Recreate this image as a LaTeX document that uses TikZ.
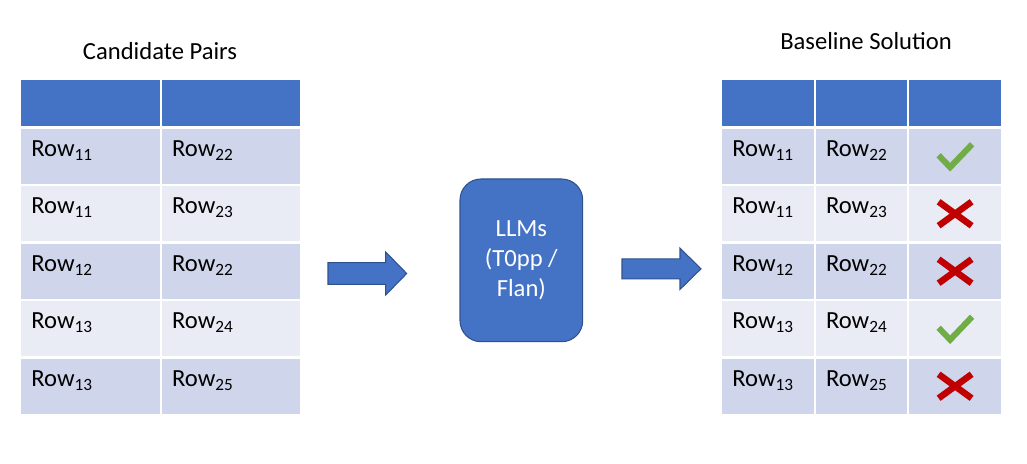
\documentclass[tikz,border=0pt]{standalone}
\usepackage{fontspec}
\setmainfont{Carlito}

\definecolor{headblue}{HTML}{4472C4}
\definecolor{edgeblue}{HTML}{2F528F}
\definecolor{rowdark}{HTML}{CFD5EA}
\definecolor{rowlight}{HTML}{E9EBF5}
\definecolor{okgreen}{HTML}{70AD47}
\definecolor{badred}{HTML}{C00000}

\tikzset{
  cell/.style={rectangle, draw=white, line width=1.2pt, inner sep=0pt, outer sep=0pt,
    anchor=north west, minimum height=1.15cm},
  head/.style={cell, fill=headblue, minimum height=0.97cm},
  rowtext/.style={anchor=base west, inner sep=0pt, font=\fontsize{14}{17}\selectfont},
  title/.style={anchor=base, inner sep=0pt, font=\fontsize{14}{17}\selectfont},
  llmbox/.style={rectangle, rounded corners=0.42cm, fill=headblue, draw=edgeblue, line width=0.6pt,
    minimum width=2.454cm, minimum height=3.254cm, text=white, align=center,
    font=\fontsize{14}{17}\selectfont},
  blockarrow/.style={fill=headblue, draw=edgeblue, line width=0.6pt},
  okmark/.style={draw=okgreen, line width=0.12cm},
  badmark/.style={draw=badred, line width=0.13cm}
}

\begin{document}
\begin{tikzpicture}
          % Variables
          \def \lx     {0.40}
          \def \lw     {2.815}
          \def \rx     {14.42}
          \def \rw     {1.873}
          \def \toprow {7.68}

          \useasboundingbox (0,0) rectangle (20.54,9.26);

          % Titles
          \node[title] (ltitle) at (3.2, 8.06) {Candidate Pairs};
          \node[title] (rtitle) at (17.32, 8.26) {Baseline Solution};

          % Header rows
          \node[head, minimum width=\lw cm] (lh-a) at (\lx, \toprow) {};
          \node[head, minimum width=\lw cm] (lh-b) at (lh-a.north east) {};
          \node[head, minimum width=\rw cm] (rh-a) at (\rx, \toprow) {};
          \node[head, minimum width=\rw cm] (rh-b) at (rh-a.north east) {};
          \node[head, minimum width=\rw cm] (rh-c) at (rh-b.north east) {};

          % Table rows
          \foreach \i/\a/\b/\ok/\shade in {1/11/22/1/rowdark, 2/11/23/0/rowlight, 3/12/22/0/rowdark,
                                            4/13/24/1/rowlight, 5/13/25/0/rowdark} {
            \node[cell, fill=\shade, minimum width=\lw cm] (l\i-a) at (\lx, {6.71-(\i-1)*1.15}) {};
            \node[cell, fill=\shade, minimum width=\lw cm] (l\i-b) at (l\i-a.north east) {};
            \node[cell, fill=\shade, minimum width=\rw cm] (r\i-a) at (\rx, {6.71-(\i-1)*1.15}) {};
            \node[cell, fill=\shade, minimum width=\rw cm] (r\i-b) at (r\i-a.north east) {};
            \node[cell, fill=\shade, minimum width=\rw cm] (r\i-c) at (r\i-b.north east) {};
            \node[rowtext] (tl\i-a) at ([xshift=0.22cm]l\i-a.west) {Row\textsubscript{\a}};
            \node[rowtext] (tl\i-b) at ([xshift=0.22cm]l\i-b.west) {Row\textsubscript{\b}};
            \node[rowtext] (tr\i-a) at ([xshift=0.22cm]r\i-a.west) {Row\textsubscript{\a}};
            \node[rowtext] (tr\i-b) at ([xshift=0.22cm]r\i-b.west) {Row\textsubscript{\b}};
            \ifnum\ok=1
              \draw[okmark] ([shift={(-0.33,0.02)}]r\i-c.center) -- ++(0.23,-0.24) -- ++(0.44,0.46);
            \else
              \draw[badmark] ([shift={(-0.33,-0.24)}]r\i-c.center) -- ++(0.66,0.48)
                             ([shift={(-0.33,0.24)}]r\i-c.center) -- ++(0.66,-0.48);
            \fi
          }

          % Model
          \node[llmbox] (llm) at (10.427, 4.053) {LLMs\\(T0pp /\\Flan)};

          % Block arrows
          \coordinate (arr1) at (6.56, 3.79);
          \coordinate (arr2) at (12.44, 3.884);
          \draw[blockarrow] (arr1) ++(0,0.216) -- ++(1.154,0) -- ++(0,0.214) -- ++(0.42,-0.43)
                            -- ++(-0.42,-0.43) -- ++(0,0.214) -- ++(-1.154,0) -- cycle;
          \draw[blockarrow] (arr2) ++(0,0.20) -- ++(1.16,0) -- ++(0,0.213) -- ++(0.42,-0.413)
                            -- ++(-0.42,-0.413) -- ++(0,0.213) -- ++(-1.16,0) -- cycle;

        \end{tikzpicture}
\end{document}
